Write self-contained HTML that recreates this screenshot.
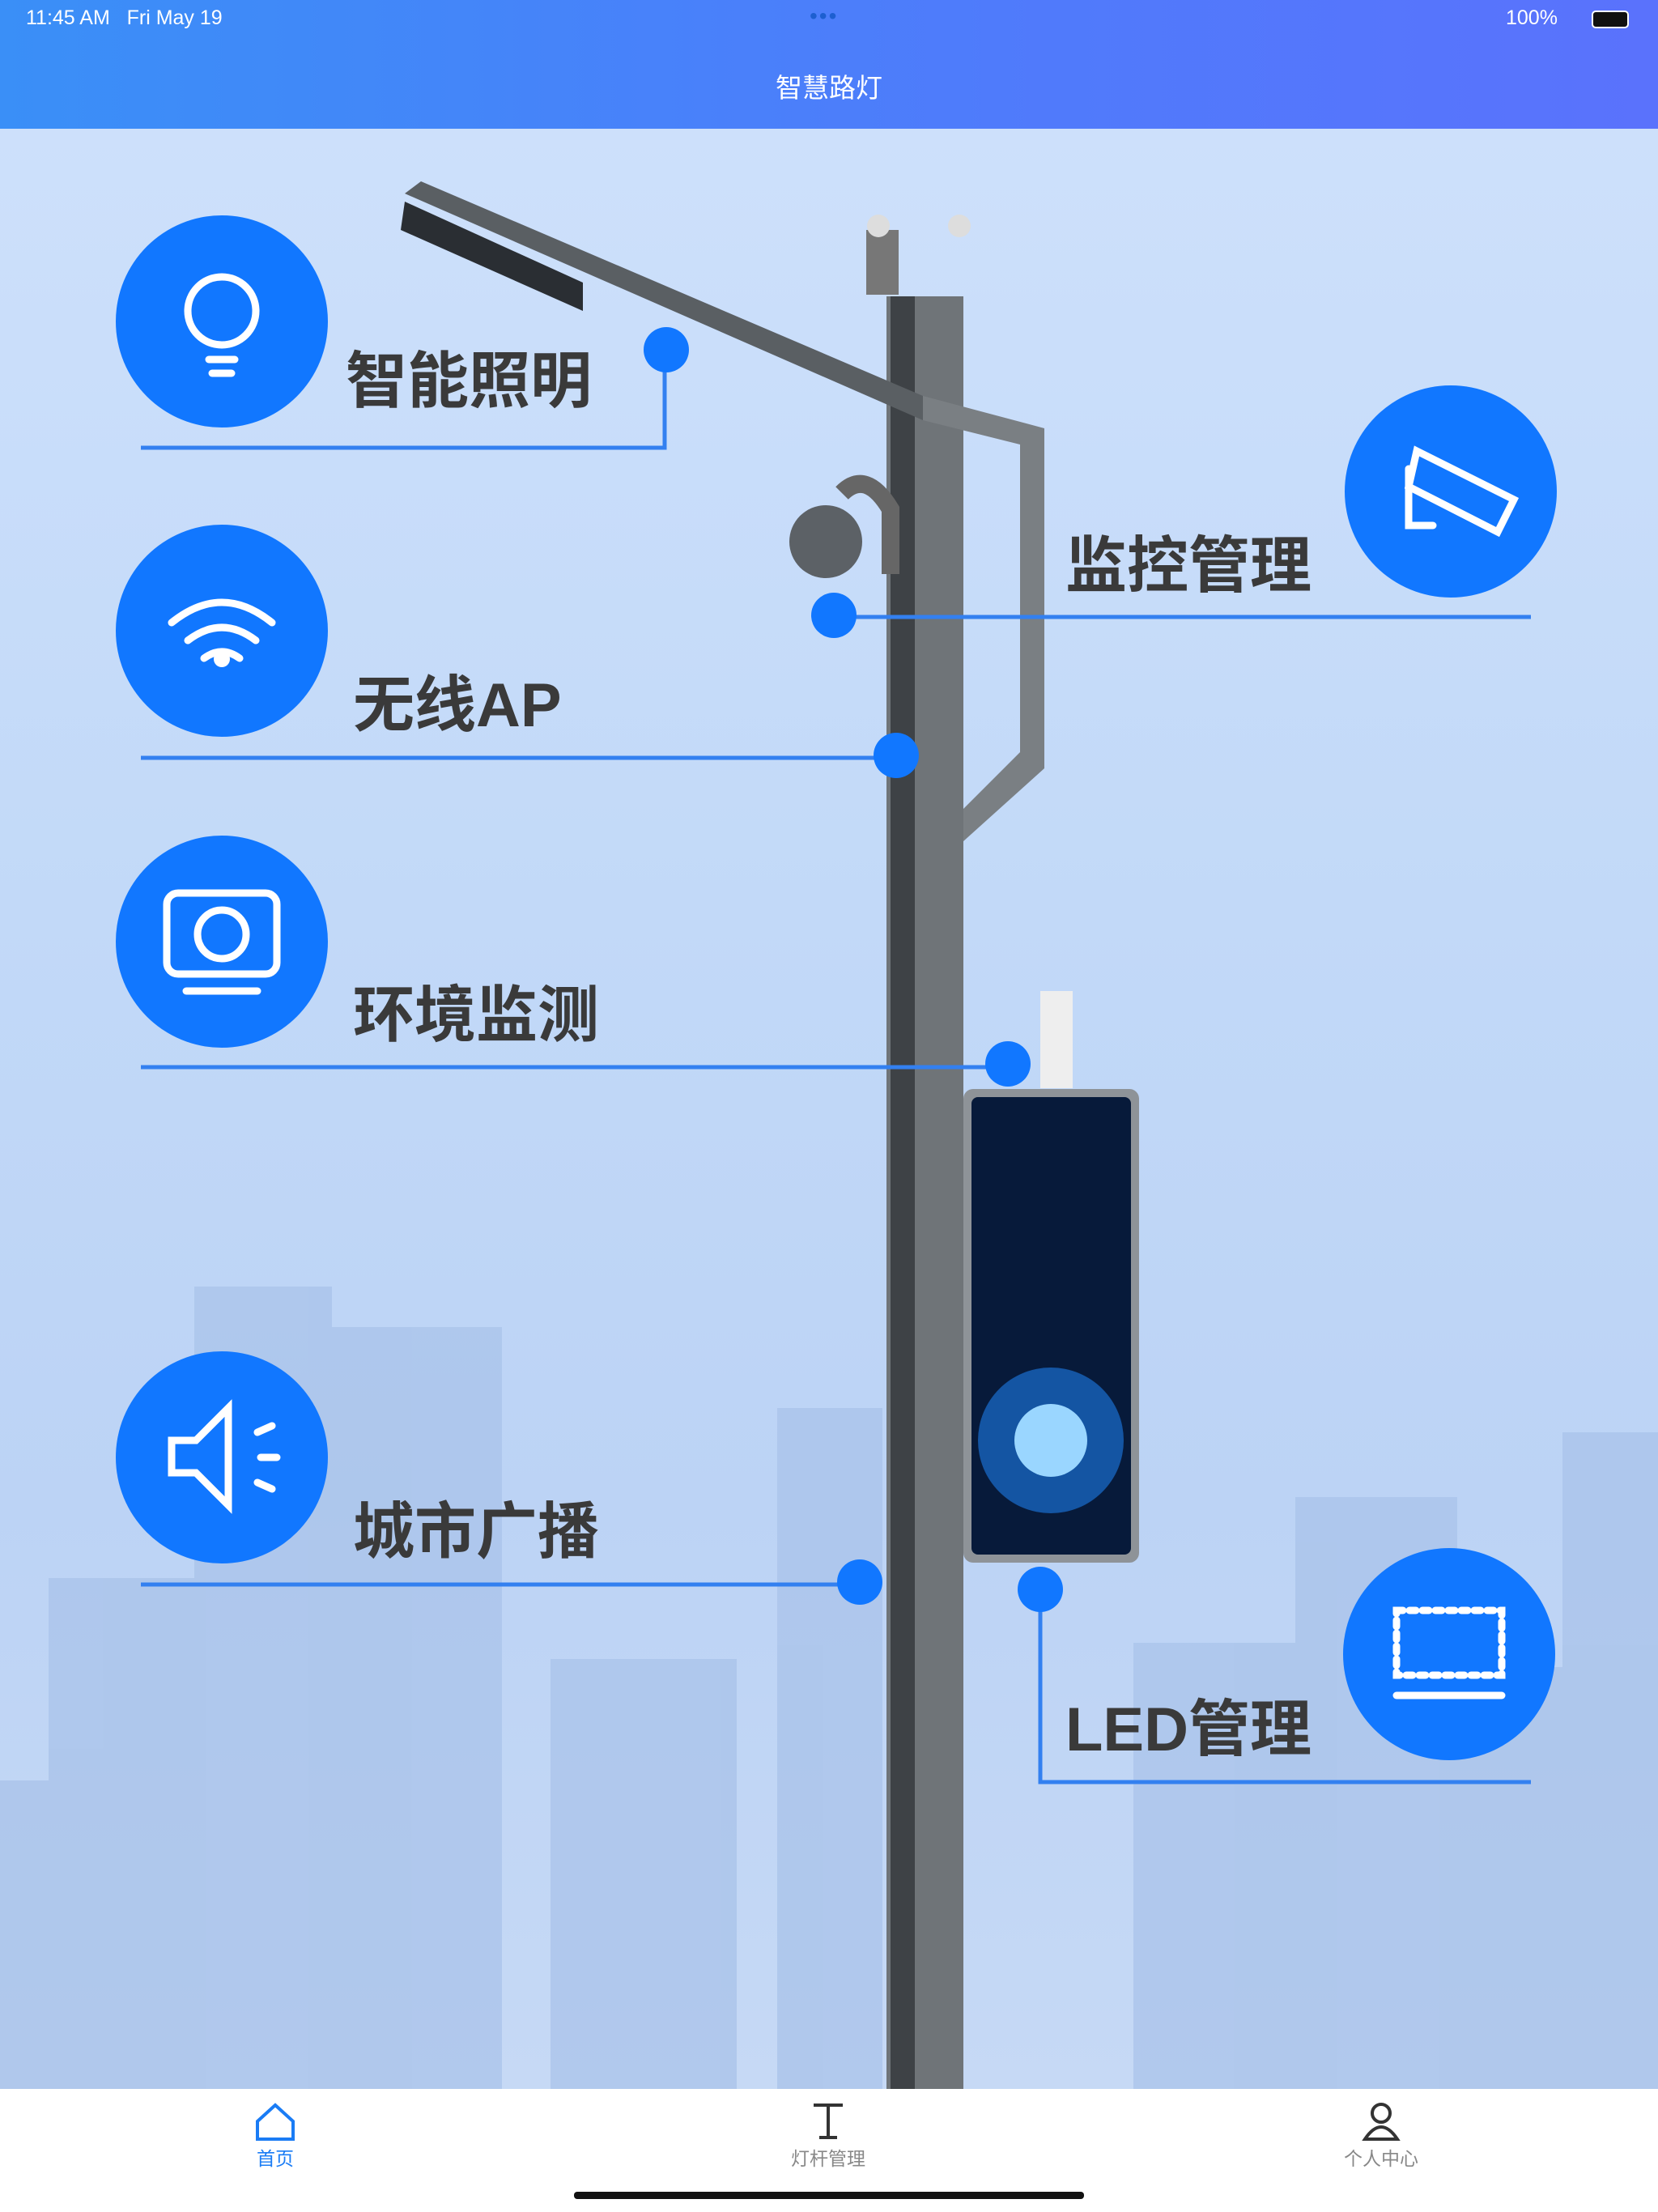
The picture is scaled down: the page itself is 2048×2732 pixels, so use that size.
<!DOCTYPE html>
<html><head><meta charset="utf-8"><style>
body{margin:0;width:2048px;height:2732px;position:relative;overflow:hidden;font-family:"Liberation Sans","Noto Sans CJK SC",sans-serif;background:#fff}
.hdr{position:absolute;left:0;top:0;width:2048px;height:159px;background:linear-gradient(90deg,#3a8ff7,#4f7bfb 60%,#5a72fc)}
.main{position:absolute;left:0;top:159px;width:2048px;height:2421px;background:linear-gradient(180deg,#cde0fb 0%,#c2d9f8 40%,#bcd3f5 70%,#c6d9f5 100%);overflow:hidden}
.lbl{position:absolute;font-size:76px;font-weight:bold;color:#3a3a3a;white-space:nowrap}
.tab{position:absolute;top:2647px;width:200px;text-align:center;font-size:23px;color:#888}
</style></head><body>
<div class="hdr">
<div style="position:absolute;left:32px;top:8px;color:#fff;font-size:25px">11:45 AM&nbsp;&nbsp;&nbsp;Fri May 19</div>
<div style="position:absolute;left:1000px;top:4px;color:#1d5fd0;font-size:28px;letter-spacing:2px">•••</div>
<div style="position:absolute;left:1860px;top:8px;color:#fff;font-size:25px">100%</div>
<div style="position:absolute;left:1966px;top:13px;width:42px;height:18px;border:2px solid #fff;border-radius:5px;background:#111"></div>
<div style="position:absolute;left:0;width:2048px;top:82px;text-align:center;color:#fff;font-size:33px">智慧路灯</div>
</div>
<div class="main">
<svg width="2048" height="2421" style="position:absolute;left:0;top:0">
<g fill="#a9c3ea" opacity="0.75">
<rect x="240" y="1430" width="170" height="991"/><rect x="410" y="1480" width="210" height="941"/>
<rect x="60" y="1790" width="180" height="631"/><rect x="0" y="2040" width="90" height="381"/>
<rect x="680" y="1890" width="230" height="531"/><rect x="960" y="1580" width="130" height="841"/>
<rect x="1400" y="1870" width="200" height="551"/><rect x="1600" y="1690" width="200" height="731"/>
<rect x="1800" y="1900" width="248" height="521"/><rect x="1930" y="1610" width="118" height="811"/>
</g>
<rect x="1095" y="207" width="95" height="2214" fill="#6f7478"/><rect x="1100" y="207" width="30" height="2214" fill="#3e4246"/>
<polygon points="500,80 520,65 1140,330 1140,360" fill="#5a5f63"/>
<polygon points="1140,330 1290,370 1290,790 1190,880 1190,840 1260,770 1260,390 1140,360" fill="#7a7f83"/>
<polygon points="500,90 720,190 720,225 495,125" fill="#2a2e33"/>
<rect x="1070" y="125" width="40" height="80" fill="#777"/>
<circle cx="1085" cy="120" r="14" fill="#ddd"/><circle cx="1185" cy="120" r="14" fill="#ddd"/>
<path d="M1040 450 q30-30 60 20 v80" stroke="#666" stroke-width="22" fill="none"/>
<circle cx="1020" cy="510" r="45" fill="#5c6166"/>
<rect x="1285" y="1065" width="40" height="120" fill="#eee"/>
<rect x="1190" y="1186" width="217" height="585" rx="12" fill="#8e9398"/>
<rect x="1200" y="1196" width="197" height="565" rx="8" fill="#071a3a"/>
<circle cx="1298" cy="1620" r="90" fill="#1a6fd0" opacity="0.7"/><circle cx="1298" cy="1620" r="45" fill="#9ad6ff"/>
<g stroke="#3380f0" stroke-width="5" fill="none">
<polyline points="174,394 821,394 821,273"/>
<line x1="1030" y1="603" x2="1891" y2="603"/>
<line x1="174" y1="777" x2="1107" y2="777"/>
<line x1="174" y1="1159" x2="1245" y2="1159"/>
<line x1="174" y1="1798" x2="1062" y2="1798"/>
<polyline points="1285,1804 1285,2042 1891,2042"/>
</g>
<g fill="#1177ff">
<circle cx="823" cy="273" r="28"/><circle cx="1030" cy="601" r="28"/><circle cx="1107" cy="774" r="28"/>
<circle cx="1245" cy="1155" r="28"/><circle cx="1062" cy="1795" r="28"/><circle cx="1285" cy="1804" r="28"/>
<circle cx="274" cy="238" r="131"/><circle cx="274" cy="620" r="131"/><circle cx="274" cy="1004" r="131"/>
<circle cx="274" cy="1641" r="131"/><circle cx="1792" cy="448" r="131"/><circle cx="1790" cy="1884" r="131"/>
</g>
<g stroke="#fff" stroke-width="9" fill="none" stroke-linecap="round">
<circle cx="274" cy="225" r="42"/><line x1="258" y1="285" x2="290" y2="285"/><line x1="262" y1="302" x2="286" y2="302"/>
<path d="M212 610 q62-50 124 0 M232 632 q42-32 84 0 M252 654 q22-16 44 0"/>
<rect x="206" y="944" width="136" height="100" rx="14"/><line x1="230" y1="1065" x2="318" y2="1065"/><circle cx="274" cy="995" r="30"/>
<path d="M212 1620 h30 l40-40 v120 l-40-40 h-30z M318 1610 l18-8 M322 1641 h20 M318 1672 l18 8"/>
<path d="M1750 398 l120 60 -20 40 -110-56z M1740 420 v70 h30"/>
<rect x="1725" y="1830" width="130" height="80" stroke-dasharray="8 8"/><line x1="1725" y1="1935" x2="1855" y2="1935"/>
</g>
<circle cx="274" cy="655" r="10" fill="#fff"/>
</svg>
<div class="lbl" style="left:427px;top:250px">智能照明</div>
<div class="lbl" style="left:1316px;top:478px">监控管理</div>
<div class="lbl" style="left:436px;top:650px">无线AP</div>
<div class="lbl" style="left:436px;top:1033px">环境监测</div>
<div class="lbl" style="left:436px;top:1671px">城市广播</div>
<div class="lbl" style="left:1316px;top:1915px">LED管理</div>
</div>
<svg width="2048" height="152" style="position:absolute;left:0;top:2580px">
<path d="M318 40 l22-20 22 20 v22 h-44z" stroke="#1a7cf5" stroke-width="4" fill="none"/>
<path d="M1005 20 h36 M1023 20 v40 M1012 60 h22" stroke="#333" stroke-width="4" fill="none"/>
<circle cx="1706" cy="30" r="11" stroke="#333" stroke-width="4" fill="none"/><path d="M1686 62 q20-30 40 0z" stroke="#333" stroke-width="4" fill="none"/>
<rect x="709" y="127" width="630" height="9" rx="4" fill="#111"/>
</svg>
<div class="tab" style="left:240px;color:#1a7cf5">首页</div>
<div class="tab" style="left:923px">灯杆管理</div>
<div class="tab" style="left:1606px">个人中心</div>
</body></html>
